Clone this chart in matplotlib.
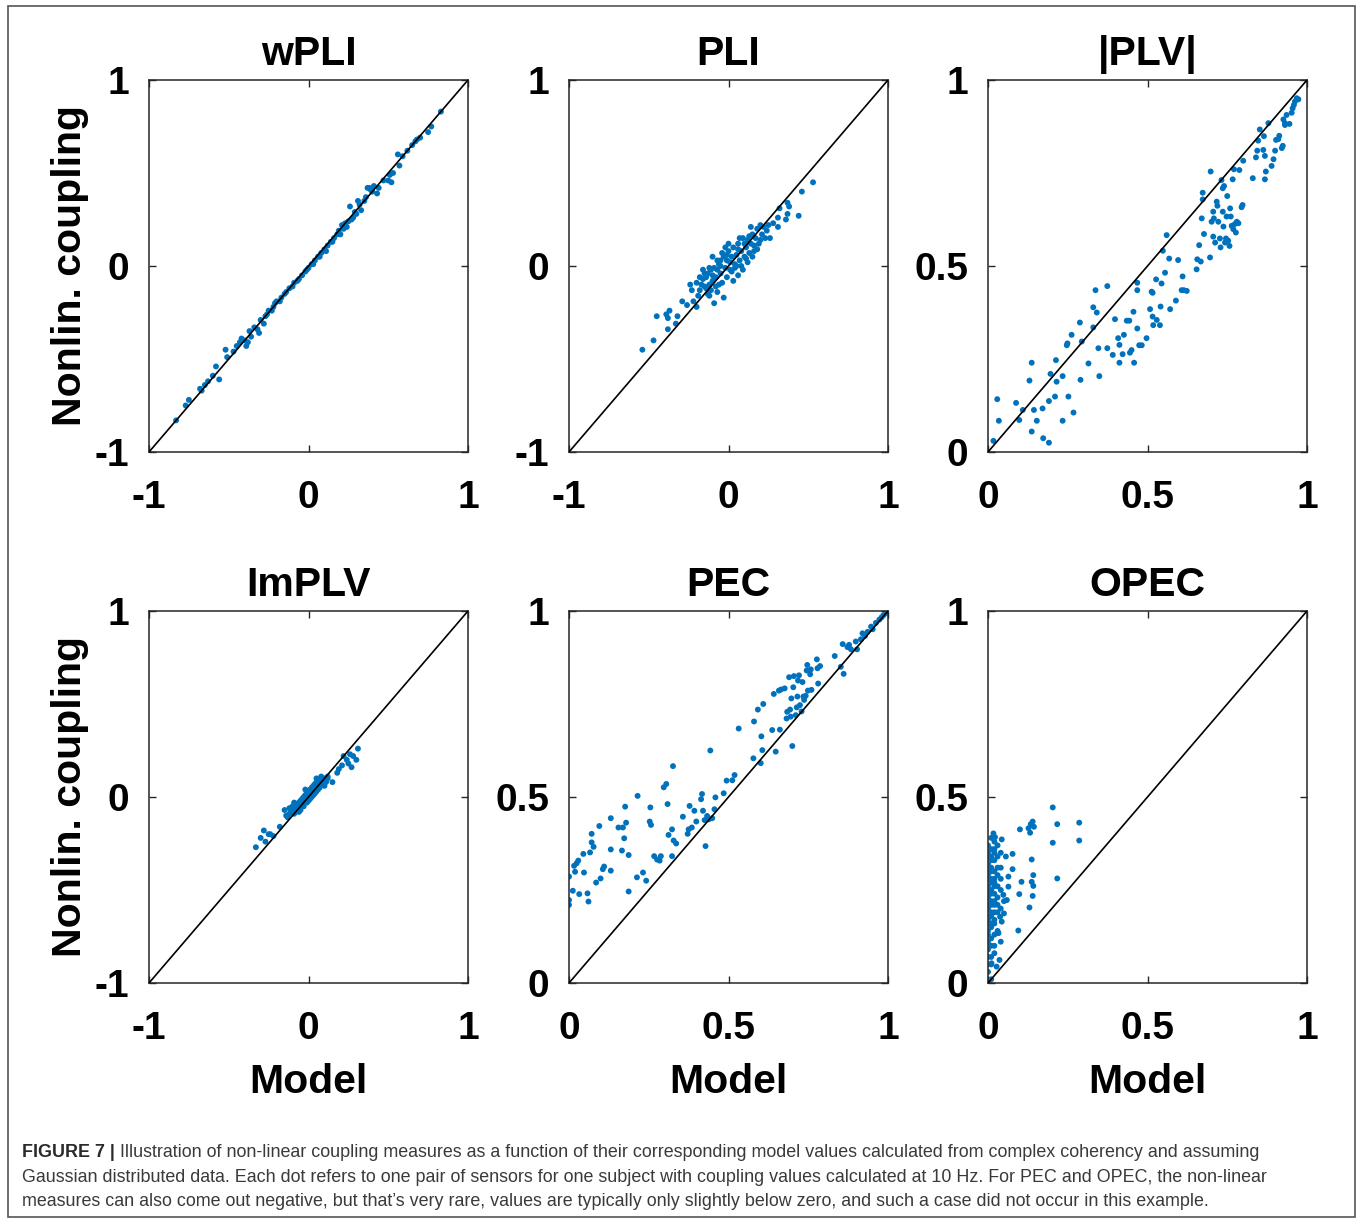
import numpy as np
import matplotlib.pyplot as plt
from matplotlib.patches import Rectangle
from matplotlib.text import Annotation

plt.rcParams['font.family'] = ['Liberation Sans', 'DejaVu Sans']

# panel titles and axis ranges
titles = ['wPLI', 'PLI', '|PLV|', 'ImPLV', 'PEC', 'OPEC']
low_lims = [-1, -1, 0, -1, 0, 0]

# (model, nonlinear) value pairs
wpli = np.array([
    (-0.83, -0.83), (-0.77, -0.75), (-0.75, -0.72), (-0.67, -0.67), (-0.65, -0.64),
    (-0.63, -0.62), (-0.58, -0.54), (-0.56, -0.61), (-0.52, -0.45), (-0.51, -0.49),
    (-0.45, -0.43), (-0.42, -0.39), (-0.39, -0.43), (-0.38, -0.41), (-0.37, -0.35),
    (-0.32, -0.34), (-0.31, -0.36), (-0.28, -0.31), (-0.26, -0.26), (-0.23, -0.24),
    (-0.21, -0.20), (-0.18, -0.19), (-0.14, -0.14), (-0.10, -0.11), (-0.06, -0.07),
    (-0.01, -0.02), (0.03, 0.01), (0.07, 0.05), (0.11, 0.08), (0.15, 0.13),
    (0.20, 0.17), (0.21, 0.22), (0.24, 0.21), (0.26, 0.32), (0.28, 0.26),
    (0.31, 0.35), (0.33, 0.30), (0.37, 0.42), (0.38, 0.42), (0.40, 0.40),
    (0.43, 0.39), (0.50, 0.46), (0.51, 0.49), (0.52, 0.45), (0.56, 0.60),
    (0.57, 0.54), (0.59, 0.59), (0.65, 0.65), (0.67, 0.67), (0.75, 0.72),
    (0.77, 0.75), (0.83, 0.83),
    (-0.34, -0.33), (-0.30, -0.29), (-0.27, -0.27), (-0.25, -0.24), (-0.22, -0.22),
    (-0.20, -0.19), (-0.17, -0.17), (-0.15, -0.15), (-0.12, -0.12), (-0.09, -0.09),
    (-0.07, -0.08), (-0.04, -0.05), (-0.02, -0.03), (0.00, -0.01), (0.02, 0.01),
    (0.04, 0.03), (0.06, 0.05), (0.08, 0.07), (0.10, 0.09), (0.12, 0.11),
    (0.14, 0.13), (0.16, 0.15), (0.18, 0.17), (0.19, 0.19), (0.22, 0.20),
    (0.23, 0.23), (0.25, 0.24), (0.27, 0.25), (0.29, 0.29), (0.30, 0.28),
    (0.32, 0.33), (0.35, 0.35), (0.36, 0.37), (0.39, 0.41), (0.41, 0.43),
    (0.44, 0.42), (0.47, 0.46), (-0.36, -0.38), (-0.40, -0.40), (-0.43, -0.41),
    (-0.47, -0.46), (-0.60, -0.59), (-0.68, -0.66), (0.53, 0.50), (0.62, 0.62),
    (0.68, 0.68), (0.70, 0.69),
])

pli = np.array([
    (-0.54, -0.45), (-0.47, -0.40), (-0.45, -0.27), (-0.39, -0.26), (-0.38, -0.28),
    (-0.37, -0.24), (-0.38, -0.34), (-0.33, -0.31), (-0.32, -0.27), (-0.29, -0.19),
    (-0.26, -0.21), (-0.23, -0.13), (-0.22, -0.19), (-0.20, -0.22), (-0.19, -0.16),
    (-0.18, -0.13), (-0.17, -0.10), (-0.16, -0.07), (-0.14, -0.12), (-0.13, -0.04),
    (-0.12, -0.10), (-0.11, -0.02), (-0.10, -0.08), (-0.09, -0.01), (-0.08, -0.06),
    (-0.07, -0.02), (-0.06, 0.01), (-0.05, -0.04), (-0.03, 0.05), (-0.02, -0.01),
    (-0.01, 0.03), (0.00, 0.08), (0.01, -0.02), (0.02, 0.05), (0.03, 0.10),
    (0.04, 0.01), (0.05, 0.06), (0.06, 0.12), (0.07, 0.03), (0.08, 0.08),
    (0.09, 0.15), (0.10, 0.05), (0.11, 0.10), (0.12, 0.14), (0.13, 0.07),
    (0.14, 0.12), (0.15, 0.17), (0.16, 0.11), (0.17, 0.15), (0.18, 0.20),
    (0.20, 0.14), (0.21, 0.17), (0.22, 0.21), (0.23, 0.15), (0.24, 0.19),
    (0.25, 0.22), (0.28, 0.23), (0.31, 0.26), (0.32, 0.31), (0.36, 0.25),
    (0.37, 0.28), (0.38, 0.32), (0.44, 0.27), (0.46, 0.40), (0.53, 0.45),
    (0.37, 0.34), (0.31, 0.21), (0.26, 0.15), (-0.03, -0.17), (-0.08, -0.11),
    (-0.14, -0.06), (-0.10, 0.05), (-0.16, -0.02), (0.00, 0.12), (0.07, 0.15),
    (0.14, 0.21), (0.20, 0.22), (0.03, -0.08), (0.09, -0.02), (-0.12, -0.16),
    (-0.09, -0.20), (-0.05, 0.03), (0.02, -0.03), (-0.10, -0.05), (0.05, 0.00),
    (0.10, 0.12), (-0.02, 0.10), (0.15, 0.05), (-0.06, -0.10), (0.12, 0.02),
    (-0.15, -0.11), (0.18, 0.09), (-0.04, 0.07), (0.06, -0.05), (-0.20, -0.09),
    (0.01, 0.02), (-0.13, -0.15), (0.08, 0.00), (-0.11, -0.13), (-0.07, -0.14),
    (-0.04, -0.09), (-0.01, -0.06), (0.04, -0.01), (0.11, 0.04), (0.16, 0.08),
    (0.19, 0.12), (0.13, 0.16), (0.06, 0.09), (-0.01, 0.06), (-0.07, 0.03),
    (-0.12, -0.01), (-0.18, -0.06), (-0.24, -0.10), (-0.15, -0.04), (-0.05, 0.00),
])

plv = np.array([
    (0.017, 0.030), (0.029, 0.142), (0.034, 0.084), (0.088, 0.132), (0.098, 0.086),
    (0.109, 0.113), (0.130, 0.192), (0.137, 0.240), (0.137, 0.055), (0.144, 0.113),
    (0.153, 0.084), (0.171, 0.117), (0.173, 0.037), (0.191, 0.025), (0.191, 0.137),
    (0.196, 0.210), (0.210, 0.149), (0.213, 0.247), (0.215, 0.189), (0.234, 0.204),
    (0.234, 0.084), (0.247, 0.287), (0.249, 0.292), (0.252, 0.149), (0.262, 0.315),
    (0.268, 0.106), (0.288, 0.348), (0.290, 0.194), (0.294, 0.297), (0.315, 0.238),
    (0.330, 0.335), (0.330, 0.389), (0.337, 0.435), (0.341, 0.375), (0.346, 0.279),
    (0.349, 0.204), (0.374, 0.446), (0.374, 0.279), (0.391, 0.261), (0.398, 0.357),
    (0.408, 0.306), (0.412, 0.240), (0.412, 0.288), (0.422, 0.263), (0.426, 0.315),
    (0.435, 0.353), (0.443, 0.353), (0.445, 0.267), (0.450, 0.274), (0.456, 0.377),
    (0.458, 0.240), (0.468, 0.455), (0.468, 0.435), (0.468, 0.332), (0.474, 0.287),
    (0.482, 0.287), (0.497, 0.306), (0.508, 0.384), (0.513, 0.431), (0.516, 0.428),
    (0.516, 0.364), (0.518, 0.341), (0.527, 0.464), (0.529, 0.355), (0.539, 0.341),
    (0.541, 0.391), (0.544, 0.453), (0.548, 0.541), (0.555, 0.482), (0.560, 0.583),
    (0.568, 0.520), (0.571, 0.384), (0.589, 0.407), (0.596, 0.516), (0.607, 0.435),
    (0.610, 0.472), (0.614, 0.435), (0.623, 0.433), (0.654, 0.491), (0.656, 0.518),
    (0.662, 0.556), (0.667, 0.512), (0.670, 0.628), (0.673, 0.679), (0.673, 0.697),
    (0.677, 0.586), (0.696, 0.523), (0.698, 0.754), (0.701, 0.619), (0.706, 0.646),
    (0.706, 0.579), (0.708, 0.628), (0.712, 0.563), (0.717, 0.673), (0.719, 0.662),
    (0.722, 0.619), (0.727, 0.574), (0.729, 0.550), (0.732, 0.731), (0.736, 0.709),
    (0.736, 0.646), (0.738, 0.606), (0.740, 0.715), (0.743, 0.563), (0.746, 0.574),
    (0.748, 0.633), (0.750, 0.688), (0.753, 0.568), (0.757, 0.554), (0.759, 0.655),
    (0.761, 0.633), (0.764, 0.608), (0.767, 0.733), (0.769, 0.599), (0.771, 0.760),
    (0.774, 0.613), (0.777, 0.590), (0.780, 0.619), (0.785, 0.615), (0.788, 0.758),
    (0.795, 0.658), (0.798, 0.664), (0.800, 0.783), (0.830, 0.736), (0.840, 0.792),
    (0.844, 0.810), (0.847, 0.837), (0.852, 0.867), (0.863, 0.812), (0.865, 0.849),
    (0.868, 0.796), (0.868, 0.733), (0.871, 0.754), (0.879, 0.884), (0.889, 0.769),
    (0.895, 0.787), (0.900, 0.810), (0.903, 0.839), (0.910, 0.841), (0.913, 0.850),
    (0.921, 0.817), (0.924, 0.823), (0.926, 0.894), (0.931, 0.884), (0.931, 0.879),
    (0.936, 0.906), (0.945, 0.882), (0.952, 0.912), (0.955, 0.924), (0.959, 0.933),
    (0.962, 0.942), (0.968, 0.951), (0.973, 0.948), (1.000, 1.000),
])

implv = np.array([
    (-0.33, -0.27), (-0.30, -0.22), (-0.28, -0.18), (-0.27, -0.24), (-0.25, -0.20),
    (-0.24, -0.20), (-0.22, -0.21), (-0.18, -0.16), (-0.15, -0.07), (-0.14, -0.10),
    (-0.12, -0.09), (-0.10, -0.05), (0.12, 0.10), (0.15, 0.08), (0.18, 0.13),
    (0.21, 0.17), (0.22, 0.22), (0.24, 0.20), (0.25, 0.18), (0.26, 0.23),
    (0.28, 0.22), (0.31, 0.26), (0.30, 0.20), (0.27, 0.16), (0.19, 0.15),
    (-0.10, -0.07), (-0.09, -0.09), (-0.08, -0.05), (-0.08, -0.08), (-0.07, -0.04),
    (-0.07, -0.07), (-0.06, -0.03), (-0.06, -0.06), (-0.05, -0.02), (-0.05, -0.05),
    (-0.05, -0.07), (-0.04, -0.01), (-0.04, -0.04), (-0.03, 0.00), (-0.03, -0.03),
    (-0.03, -0.05), (-0.02, 0.01), (-0.02, -0.02), (-0.01, 0.02), (-0.01, -0.01),
    (-0.01, -0.03), (0.00, 0.03), (0.00, 0.00), (0.00, -0.02), (0.01, 0.04),
    (0.01, 0.01), (0.01, -0.01), (0.02, 0.05), (0.02, 0.02), (0.02, 0.00),
    (0.03, 0.06), (0.03, 0.03), (0.03, 0.01), (0.04, 0.07), (0.04, 0.04),
    (0.04, 0.02), (0.05, 0.08), (0.05, 0.05), (0.05, 0.03), (0.06, 0.09),
    (0.06, 0.06), (0.06, 0.04), (0.07, 0.10), (0.07, 0.07), (0.07, 0.05),
    (0.08, 0.08), (0.08, 0.11), (0.09, 0.09), (0.09, 0.07), (0.10, 0.10),
    (0.11, 0.08), (-0.11, -0.08), (-0.12, -0.06), (-0.09, -0.03), (-0.06, -0.08),
    (0.12, 0.11), (0.10, 0.06), (-0.02, 0.04), (0.05, 0.10), (-0.13, -0.11),
])

pec = np.array([
    (0.000, 0.286), (0.000, 0.223), (0.000, 0.210), (0.012, 0.248), (0.016, 0.315),
    (0.019, 0.299), (0.024, 0.322), (0.029, 0.329), (0.032, 0.239), (0.045, 0.347),
    (0.047, 0.297), (0.058, 0.241), (0.061, 0.219), (0.066, 0.351), (0.071, 0.378),
    (0.071, 0.401), (0.077, 0.366), (0.085, 0.270), (0.095, 0.422), (0.099, 0.281),
    (0.106, 0.306), (0.110, 0.313), (0.131, 0.359), (0.131, 0.443), (0.131, 0.302),
    (0.155, 0.418), (0.166, 0.356), (0.169, 0.418), (0.173, 0.389), (0.176, 0.474),
    (0.179, 0.431), (0.187, 0.344), (0.187, 0.246), (0.213, 0.284), (0.215, 0.503),
    (0.232, 0.297), (0.242, 0.275), (0.253, 0.434), (0.255, 0.472), (0.257, 0.425),
    (0.267, 0.341), (0.276, 0.332), (0.284, 0.329), (0.288, 0.341), (0.297, 0.526),
    (0.305, 0.535), (0.309, 0.481), (0.312, 0.398), (0.323, 0.413), (0.323, 0.341),
    (0.326, 0.583), (0.328, 0.383), (0.336, 0.375), (0.357, 0.447), (0.372, 0.401),
    (0.375, 0.413), (0.378, 0.476), (0.385, 0.418), (0.393, 0.463), (0.399, 0.434),
    (0.414, 0.494), (0.417, 0.508), (0.420, 0.463), (0.425, 0.438), (0.428, 0.368),
    (0.433, 0.449), (0.438, 0.440), (0.443, 0.625), (0.449, 0.443), (0.456, 0.467),
    (0.459, 0.499), (0.485, 0.510), (0.494, 0.544), (0.512, 0.545), (0.519, 0.559),
    (0.532, 0.684), (0.578, 0.604), (0.580, 0.703), (0.592, 0.735), (0.601, 0.591),
    (0.603, 0.663), (0.606, 0.626), (0.609, 0.750), (0.637, 0.680), (0.642, 0.777),
    (0.648, 0.622), (0.658, 0.786), (0.661, 0.681), (0.665, 0.789), (0.676, 0.792),
    (0.682, 0.711), (0.684, 0.729), (0.690, 0.822), (0.693, 0.735), (0.695, 0.716),
    (0.697, 0.765), (0.700, 0.637), (0.703, 0.795), (0.705, 0.825), (0.711, 0.720),
    (0.714, 0.741), (0.716, 0.770), (0.718, 0.813), (0.721, 0.827), (0.724, 0.747),
    (0.729, 0.730), (0.732, 0.809), (0.735, 0.770), (0.737, 0.761), (0.742, 0.772),
    (0.745, 0.840), (0.747, 0.855), (0.749, 0.786), (0.756, 0.830), (0.758, 0.843),
    (0.760, 0.788), (0.777, 0.870), (0.779, 0.846), (0.781, 0.805), (0.787, 0.852),
    (0.833, 0.879), (0.852, 0.850), (0.858, 0.911), (0.861, 0.831), (0.873, 0.903),
    (0.878, 0.909), (0.884, 0.897), (0.899, 0.918), (0.903, 0.897), (0.915, 0.924),
    (0.920, 0.940), (0.928, 0.933), (0.936, 0.944), (0.947, 0.958), (0.952, 0.951),
    (0.962, 0.968), (0.973, 0.977), (0.980, 0.983), (0.986, 0.989), (0.994, 0.995),
    (1.000, 1.000),
])

opec = np.array([
    (0.017, 0.402), (0.043, 0.386), (0.022, 0.392), (0.056, 0.340), (0.077, 0.347),
    (0.077, 0.306), (0.100, 0.413), (0.105, 0.272), (0.098, 0.239), (0.095, 0.141),
    (0.127, 0.416), (0.132, 0.404), (0.134, 0.427), (0.140, 0.434), (0.144, 0.420),
    (0.130, 0.203), (0.137, 0.332), (0.142, 0.290), (0.142, 0.261), (0.140, 0.234),
    (0.137, 0.272), (0.203, 0.472), (0.203, 0.377), (0.217, 0.427), (0.217, 0.281),
    (0.286, 0.431), (0.286, 0.383), (0.064, 0.259), (0.048, 0.237), (0.059, 0.223),
    (0.038, 0.178), (0.043, 0.165), (0.033, 0.134), (0.040, 0.111), (0.036, 0.062),
    (0.027, 0.044), (0.011, 0.053), (0.000, 0.000), (0.050, 0.187), (0.064, 0.286),
    (0.00, 0.05), (0.01, 0.07), (0.00, 0.09), (0.02, 0.10), (0.01, 0.12),
    (0.00, 0.13), (0.03, 0.14), (0.01, 0.15), (0.02, 0.16), (0.00, 0.17),
    (0.01, 0.18), (0.03, 0.19), (0.00, 0.20), (0.02, 0.21), (0.01, 0.22),
    (0.00, 0.23), (0.03, 0.23), (0.02, 0.24), (0.01, 0.25), (0.00, 0.26),
    (0.03, 0.26), (0.02, 0.27), (0.01, 0.28), (0.00, 0.29), (0.04, 0.28),
    (0.02, 0.30), (0.01, 0.31), (0.00, 0.32), (0.03, 0.31), (0.02, 0.33),
    (0.01, 0.34), (0.00, 0.35), (0.03, 0.34), (0.02, 0.35), (0.01, 0.36),
    (0.00, 0.37), (0.03, 0.37), (0.02, 0.38), (0.01, 0.39), (0.00, 0.30),
    (0.01, 0.27), (0.00, 0.24), (0.01, 0.21), (0.00, 0.18), (0.02, 0.19),
    (0.01, 0.16), (0.00, 0.14), (0.00, 0.11), (0.01, 0.10), (0.02, 0.13),
    (0.00, 0.07), (0.01, 0.05), (0.02, 0.08), (0.00, 0.03), (0.01, 0.01),
    (0.04, 0.35), (0.04, 0.31), (0.04, 0.25), (0.05, 0.22), (0.04, 0.20),
    (0.03, 0.29), (0.03, 0.21), (0.02, 0.36), (0.01, 0.33), (0.00, 0.34),
    (0.02, 0.28), (0.01, 0.30), (0.00, 0.28), (0.02, 0.26), (0.00, 0.25),
    (0.01, 0.24), (0.02, 0.22), (0.00, 0.21), (0.01, 0.19), (0.00, 0.16),
    (0.02, 0.17),
])

panels = [wpli, pli, plv, implv, pec, opec]

caption = [
    "Illustration of non-linear coupling measures as a function of their corresponding model values "
    "calculated from complex coherency and assuming",
    "Gaussian distributed data. Each dot refers to one pair of sensors for one subject with coupling "
    "values calculated at 10 Hz. For PEC and OPEC, the non-linear",
    "measures can also come out negative, but that\u2019s very rare, values are typically only slightly "
    "below zero, and such a case did not occur in this example.",
]

W, H = 1358, 1219
fig = plt.figure(figsize=(W / 100, H / 100), dpi=100)

col_left = [149, 569, 988]
row_top = [80, 611]
aw, ah = 319, 372
dot_color = '#0072BD'
tick_fs = 28
label_fs = 29.5

for i, pts in enumerate(panels):
    r, c = divmod(i, 3)
    lo = low_lims[i]
    ax = fig.add_axes([col_left[c] / W, 1 - (row_top[r] + ah) / H, aw / W, ah / H])
    ax.scatter(pts[:, 0], pts[:, 1], s=18, color=dot_color, edgecolors='none', zorder=2)
    ax.plot([lo, 1], [lo, 1], color='black', lw=1.2, zorder=3)
    ax.set_xlim(lo, 1)
    ax.set_ylim(lo, 1)
    if lo == -1:
        ticks, labels = [-1, 0, 1], ['-1', '0', '1']
    else:
        ticks, labels = [0, 0.5, 1], ['0', '0.5', '1']
    ax.set_xticks(ticks)
    ax.set_yticks(ticks)
    ax.set_xticklabels(labels, fontsize=tick_fs, fontweight='bold')
    ax.set_yticklabels(labels, fontsize=tick_fs, fontweight='bold')
    ax.tick_params(direction='in', top=True, right=True, length=5, width=1,
                   color='#262626')
    ax.tick_params(axis='x', pad=20)
    ax.tick_params(axis='y', pad=14)
    for sp in ax.spines.values():
        sp.set_linewidth(1.1)
        sp.set_color('#262626')
    ax.set_title(titles[i], fontsize=label_fs, fontweight='bold', pad=11)
    if c == 0:
        ax.set_ylabel('Nonlin. coupling', fontsize=label_fs, fontweight='bold', labelpad=4)
    if r == 1:
        ax.set_xlabel('Model', fontsize=label_fs, fontweight='bold', labelpad=12)

# outer frame around figure and caption
fig.add_artist(Rectangle((8 / W, 1 - 1217 / H), (1355 - 8) / W, (1217 - 6) / H,
                         transform=fig.transFigure, fill=False,
                         edgecolor='#555555', lw=1.2))

cap_x = 22 / W
base_y = [1157, 1182, 1206]
cap_color = '#3a3a3a'
cap_fs = 12.9
t1 = fig.text(cap_x, 1 - base_y[0] / H, 'FIGURE 7 |', fontsize=cap_fs,
              fontweight='bold', color='#2a2a2a', va='baseline')
fig.add_artist(Annotation(caption[0], xy=(1, 0), xycoords=t1, xytext=(4, 0),
                          textcoords='offset points', fontsize=cap_fs,
                          color=cap_color, va='bottom'))
for k in (1, 2):
    fig.text(cap_x, 1 - base_y[k] / H, caption[k], fontsize=cap_fs,
             color=cap_color, va='baseline')

fig.savefig('out.png', dpi=100)
